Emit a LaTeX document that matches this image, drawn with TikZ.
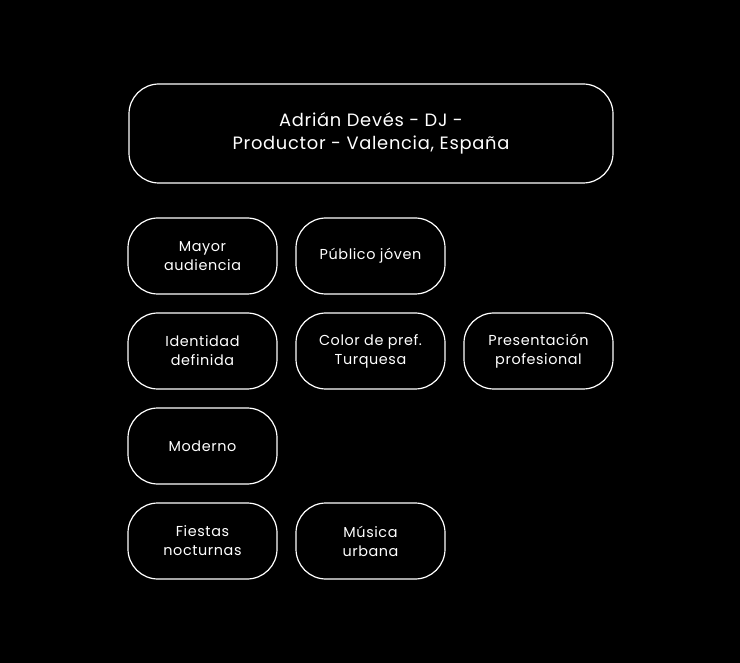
\documentclass[tikz,border=0pt]{standalone}
\usepackage{fontspec}
\setmainfont{Poppins}[LetterSpace=4]
\begin{document}
\begin{tikzpicture}[x=0.75pt,y=-0.75pt,
  box/.style={draw=white,line width=0.9pt,rounded corners=22.5pt,text=white,align=center,inner sep=0pt},
  small/.style={box,minimum width=111.75pt,minimum height=57pt,font=\fontsize{10.8}{14.25}\selectfont},
  big/.style={box,minimum width=363pt,minimum height=74.25pt,font=\fontsize{13.4}{17.25}\selectfont}]
\fill[black] (0,0) rectangle (740,663);
\useasboundingbox (0,0) rectangle (740,663);
\node[big] (title) at (371,133.5) {Adrián Devés - DJ -\\Productor - Valencia, España};
\node[small] (mayor) at (202.5,256) {Mayor\\audiencia};
\node[small] (publico) at (370.5,256) {Público jóven};
\node[small] (identidad) at (202.5,351) {Identidad\\definida};
\node[small] (color) at (370.5,351) {Color de pref.\\Turquesa};
\node[small] (presentacion) at (538.5,351) {Presentación\\profesional};
\node[small] (moderno) at (202.5,446) {Moderno};
\node[small] (fiestas) at (202.5,541) {Fiestas\\nocturnas};
\node[small] (musica) at (370.5,541) {Música\\urbana};
\end{tikzpicture}
\end{document}
